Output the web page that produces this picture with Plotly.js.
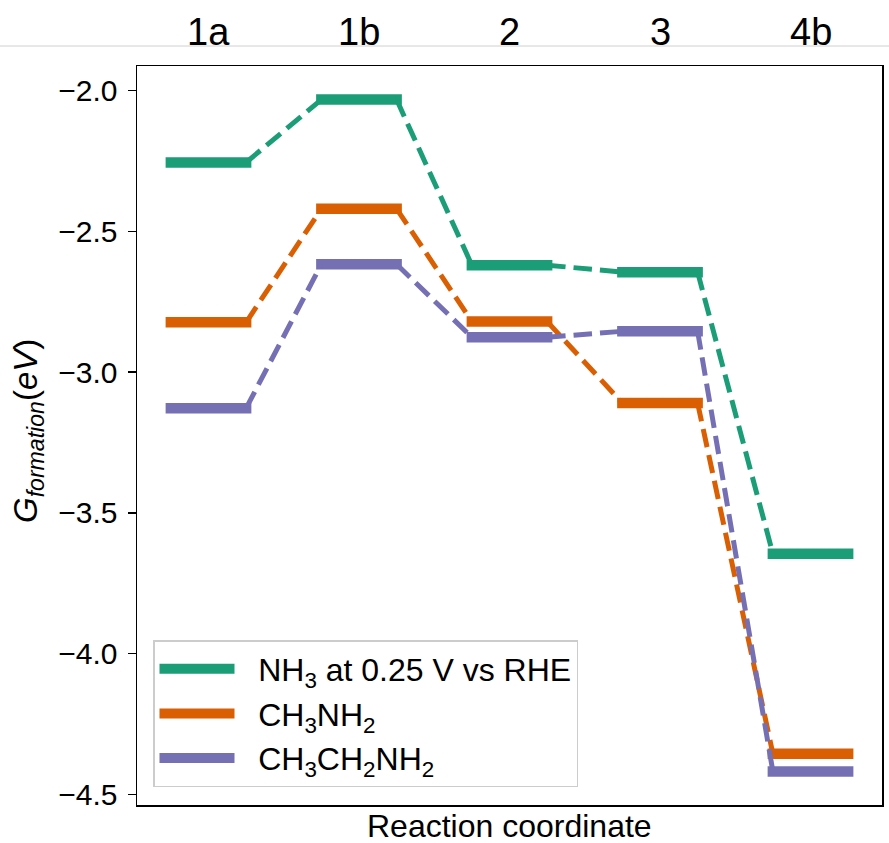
<!DOCTYPE html>
<html>
<head>
<meta charset="utf-8">
<script src="https://cdn.plot.ly/plotly-3.0.1.min.js"></script>
<style>
  html, body { margin: 0; padding: 0; background: #ffffff; }
  #chart { width: 889px; height: 843px; }
</style>
</head>
<body>
<div id="chart"></div>
<script>
// ---- data ----
const stages = ['1a', '1b', '2', '3', '4b'];
const seriesNames = [
  'NH<sub>3</sub> at 0.25 V vs RHE',
  'CH<sub>3</sub>NH<sub>2</sub>',
  'CH<sub>3</sub>CH<sub>2</sub>NH<sub>2</sub>'
];
const nh3 = [-2.255, -2.032, -2.620, -2.645, -3.645];
const ch3nh2 = [-2.823, -2.420, -2.820, -3.110, -4.355];
const ch3ch2nh2 = [-3.128, -2.617, -2.876, -2.855, -4.418];
const seriesColors = ['#1b9e77', '#d95f02', '#7570b3'];

// ---- layout/style constants ----
const W = 889, H = 843;
const margin = { l: 137, r: 7, t: 66, b: 38 };
const xRange = [-0.45, 9.45];
const yRange = [-4.5373, -1.9127];
const levelWidthPx = 10.5;
const connWidthPx = 5;
const FONT = 'Liberation Sans, Arial, Helvetica, sans-serif';
const LEGEND_PAD = '\u2002\u200A'; // gap between legend sample and text

const plotW = W - margin.l - margin.r;
const plotH = H - margin.t - margin.b;
const pxPerX = plotW / (xRange[1] - xRange[0]);
const capExt = (levelWidthPx / 2) / pxPerX; // emulate projecting caps

const allSeries = [nh3, ch3nh2, ch3ch2nh2];

// level i spans [2i, 2i+1]
function levelTrace(vals, idx) {
  const xs = [], ys = [];
  vals.forEach((v, i) => {
    xs.push(2 * i - capExt, 2 * i + 1 + capExt, null);
    ys.push(v, v, null);
  });
  return {
    type: 'scatter', mode: 'lines', x: xs, y: ys,
    name: LEGEND_PAD + seriesNames[idx], legendgroup: 'g' + idx,
    line: { color: seriesColors[idx], width: levelWidthPx },
    hoverinfo: 'skip'
  };
}
function connTrace(vals, idx) {
  const xs = [], ys = [];
  for (let i = 0; i < vals.length - 1; i++) {
    xs.push(2 * i + 1, 2 * i + 2, null);
    ys.push(vals[i], vals[i + 1], null);
  }
  return {
    type: 'scatter', mode: 'lines', x: xs, y: ys,
    showlegend: false, legendgroup: 'g' + idx,
    line: { color: seriesColors[idx], width: connWidthPx, dash: '18.5px,8px' },
    hoverinfo: 'skip'
  };
}

const traces = [];
allSeries.forEach((s, i) => traces.push(levelTrace(s, i)));
allSeries.forEach((s, i) => traces.push(connTrace(s, i)));

const pxToPaperY = py => (H - margin.b - py) / plotH;
const pxToPaperX = px => (px - margin.l) / plotW;

const annotations = stages.map((s, i) => ({
  text: s, x: 2 * i + 0.5, xref: 'x', y: pxToPaperY(32), yref: 'paper',
  xanchor: 'center', yanchor: 'middle', showarrow: false,
  font: { family: FONT, size: 38, color: '#000' }
}));
annotations.push({
  text: 'Reaction coordinate', x: 0.5, xref: 'paper', y: pxToPaperY(826), yref: 'paper',
  xanchor: 'center', yanchor: 'middle', showarrow: false,
  font: { family: FONT, size: 32, color: '#000' }
});
annotations.push({
  text: '<i>G</i><sub><i>formation</i></sub>(<i>eV</i>)',
  x: pxToPaperX(28), xref: 'paper', y: pxToPaperY(431), yref: 'paper',
  xanchor: 'center', yanchor: 'middle', textangle: -90, showarrow: false,
  font: { family: FONT, size: 33, color: '#000' }
});

const layout = {
  width: W, height: H,
  margin: margin,
  paper_bgcolor: '#ffffff', plot_bgcolor: '#ffffff',
  font: { family: FONT, color: '#000' },
  showlegend: true,
  legend: {
    x: pxToPaperX(153), y: pxToPaperY(787), xanchor: 'left', yanchor: 'bottom',
    bgcolor: 'rgba(255,255,255,0.8)', bordercolor: '#cccccc', borderwidth: 1.5,
    font: { family: FONT, size: 32, color: '#000' },
    itemwidth: 75, tracegroupgap: 0, traceorder: 'grouped'
  },
  xaxis: {
    range: xRange, showgrid: false, zeroline: false,
    showticklabels: false, ticks: '',
    showline: true, mirror: true, linecolor: '#000', linewidth: 1.5
  },
  yaxis: {
    range: yRange, showgrid: false, zeroline: false,
    tickvals: [-4.5, -4.0, -3.5, -3.0, -2.5, -2.0], tickformat: '.1f',
    ticks: 'outside', ticklen: 8, tickwidth: 1.5, tickcolor: '#000',
    ticklabelstandoff: 4,
    tickfont: { family: FONT, size: 30, color: '#000' },
    showline: true, mirror: true, linecolor: '#000', linewidth: 1.5
  },
  shapes: [{
    type: 'line', xref: 'paper', yref: 'paper',
    x0: -0.5, x1: 1.5, y0: pxToPaperY(46), y1: pxToPaperY(46),
    line: { color: '#d0d0d0', width: 1 }
  }],
  annotations: annotations
};

Plotly.newPlot('chart', traces, layout, { displayModeBar: false, staticPlot: true });
</script>
</body>
</html>
